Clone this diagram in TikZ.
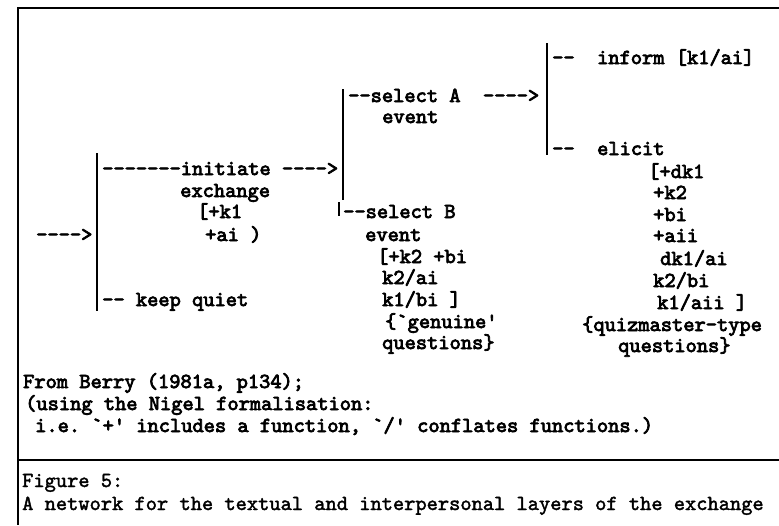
\documentclass[tikz,border=0pt]{standalone}
\usepackage{fontspec}
\newfontfamily\dmono{lmmono10-regular.otf}[FakeBold=3.5]
\newfontfamily\cmono{lmmono10-regular.otf}[FakeBold=1.8]
\begin{document}
\begin{tikzpicture}[x=1pt,y=-1pt,
  txt/.style={anchor=base west, inner sep=0pt, font=\dmono\bfseries\fontsize{21.4}{21}\selectfont},
  captxt/.style={anchor=base west, inner sep=0pt, font=\cmono\bfseries\fontsize{21.4}{21}\selectfont},
  frame/.style={line width=1.8pt},
  bar/.style={line width=1.5pt}]
\useasboundingbox (0,0) rectangle (779,525);
% frame
\coordinate (tl) at (18,8);
\coordinate (tr) at (779,8);
\coordinate (bl) at (18,525);
\coordinate (sl) at (18,460);
\coordinate (sr) at (779,460);
\draw[frame] (tr) -- (tl) -- (bl);
\draw[frame] (sl) -- (sr);
% choice bars
\coordinate (b1t) at (97,153);  \coordinate (b1b) at (97,311);
\coordinate (b2t) at (343,89);  \coordinate (b2b) at (343,200);
\coordinate (b2ct) at (339,202); \coordinate (b2cb) at (339,216);
\coordinate (b3t) at (547,43);  \coordinate (b3b) at (547,155);
\draw[bar] (b1t) -- (b1b);
\draw[bar] (b2t) -- (b2b);
\draw[bar] (b2ct) -- (b2cb);
\draw[bar] (b3t) -- (b3b);
% first system
\node[txt] (a0) at (36,241) {---->};
\node[txt] (a1) at (102,175) {-------initiate~---->};
\node[txt] (a2) at (180,197) {exchange};
\node[txt] (a3) at (197,218) {[+k1};
\node[txt] (a4) at (205,241) {+ai~)};
\node[txt] (a5) at (102,306) {--~keep~quiet};
% second system
\node[txt] (b1) at (348,102) {--select~A~~---->};
\node[txt] (b2) at (382,123) {event};
\node[txt] (b3) at (343,218) {--select~B};
\node[txt] (b4) at (365,241) {event};
\node[txt] (b5) at (377,263) {[+k2~+bi};
\node[txt] (b6) at (382,284) {k2/ai};
\node[txt] (b7) at (382,306) {k1/bi~]};
\node[txt] (b8) at (385,328) {\{`genuine'};
\node[txt] (b9) at (382,349) {questions\}};
% third system
\node[txt] (c1) at (552,64) {--~~inform~[k1/ai]};
\node[txt] (c2) at (552,155) {--~~elicit};
\node[txt] (c3) at (648,178) {[+dk1};
\node[txt] (c4) at (653,199) {+k2};
\node[txt] (c5) at (653,221) {+bi};
\node[txt] (c6) at (653,242) {+aii};
\node[txt] (c7) at (660,265) {dk1/ai};
\node[txt] (c8) at (653,287) {k2/bi};
\node[txt] (c9) at (657,309) {k1/aii~]};
\node[txt] (c10) at (582,331) {\{quizmaster-type};
\node[txt] (c11) at (618,352) {questions\}};
% notes
\node[txt] (n1) at (23,388) {From~Berry~(1981a,~p134);};
\node[txt] (n2) at (25,410) {(using~the~Nigel~formalisation:};
\node[txt] (n3) at (35,432) {i.e.~`+'~includes~a~function,~`/'~conflates~functions.)};
% caption
\node[captxt] (f1) at (22,487) {Figure~5:};
\node[captxt] (f2) at (22,510) {A~network~for~the~textual~and~interpersonal~layers~of~the~exchange};
\end{tikzpicture}
\end{document}
